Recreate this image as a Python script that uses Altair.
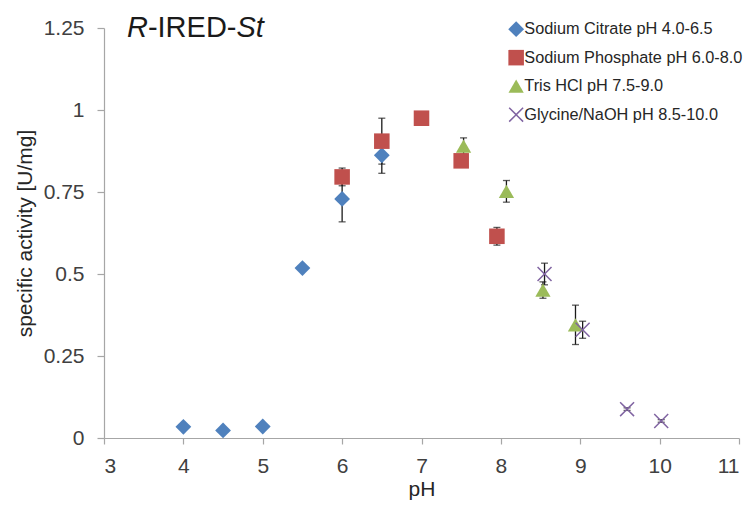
import altair as alt
import pandas as pd

series_names = [
    "Sodium Citrate pH 4.0-6.5",
    "Sodium Phosphate pH 6.0-8.0",
    "Tris HCl pH 7.5-9.0",
    "Glycine/NaOH pH 8.5-10.0",
]
series_colors = ["#4f81bd", "#c0504d", "#9bbb59", "#8064a2"]
x_path = "M-1,-0.86L-0.86,-1L0,-0.14L0.86,-1L1,-0.86L0.14,0L1,0.86L0.86,1L0,0.14L-0.86,1L-1,0.86L-0.14,0Z"
series_shapes = ["diamond", "square", "triangle-up", x_path]
series_sizes = [250, 225, 250, 180]

citrate_ph = [4.0, 4.5, 5.0, 5.5, 6.0, 6.5]
citrate_v = [0.034, 0.023, 0.035, 0.518, 0.729, 0.862]
citrate_err = [0, 0, 0, 0, 0.07, 0.055]

phosphate_ph = [6.0, 6.5, 7.0, 7.5, 7.95]
phosphate_v = [0.796, 0.905, 0.975, 0.845, 0.615]
phosphate_err = [0.027, 0.07, 0, 0, 0.027]

tris_ph = [7.53, 8.07, 8.53, 8.94]
tris_v = [0.89, 0.752, 0.451, 0.345]
tris_err = [0.025, 0.033, 0.025, 0.06]

glycine_ph = [8.55, 9.03, 9.59, 10.02]
glycine_v = [0.50, 0.33, 0.088, 0.052]
glycine_err = [0.033, 0.026, 0.004, 0.004]

x_ticks = [3, 3.5, 4, 4.5, 5, 5.5, 6, 6.5, 7, 7.5, 8, 8.5, 9, 9.5, 10, 10.5, 11]
y_ticks = [0, 0.25, 0.5, 0.75, 1.0, 1.25]

rows = []
for name, phs, vs, es in zip(
    series_names,
    [citrate_ph, phosphate_ph, tris_ph, glycine_ph],
    [citrate_v, phosphate_v, tris_v, glycine_v],
    [citrate_err, phosphate_err, tris_err, glycine_err],
):
    for p, v, e in zip(phs, vs, es):
        rows.append({"series": name, "ph": p, "v": v, "err": e, "lo": v - e, "hi": v + e})
df = pd.DataFrame(rows)

FONT = "Liberation Sans"
AXIS_GRAY = "#a6a6a6"
TEXT = "#404040"

xscale = alt.Scale(domain=[3, 11], nice=False, zero=False)
yscale = alt.Scale(domain=[0, 1.25], nice=False)

x_enc = alt.X(
    "ph:Q",
    scale=xscale,
    title="pH",
    axis=alt.Axis(
        values=x_ticks,
        format="~g",
        labelExpr="datum.value % 1 == 0 ? datum.label : ''",
        labelOverlap=False,
        grid=False,
        tickSize=6,
        labelPadding=11,
        titlePadding=2,
    ),
)
y_enc = alt.Y(
    "v:Q",
    scale=yscale,
    title="specific activity [U/mg]",
    axis=alt.Axis(
        values=y_ticks,
        format=".2~f",
        grid=False,
        tickSize=7,
        labelPadding=13,
        titlePadding=8,
    ),
)

base = alt.Chart(df)

err = base.transform_filter("datum.err > 0")
rules = err.mark_rule(color="#1a1a1a", strokeWidth=1.3).encode(
    x=alt.X("ph:Q", scale=xscale), y=alt.Y("lo:Q", scale=yscale), y2="hi:Q"
)
caps_lo = err.mark_tick(color="#1a1a1a", orient="horizontal", size=7, thickness=1.3).encode(
    x=alt.X("ph:Q", scale=xscale), y=alt.Y("lo:Q", scale=yscale)
)
caps_hi = err.mark_tick(color="#1a1a1a", orient="horizontal", size=7, thickness=1.3).encode(
    x=alt.X("ph:Q", scale=xscale), y=alt.Y("hi:Q", scale=yscale)
)

legend = alt.Legend(
    title=None,
    orient="none",
    legendX=404,
    legendY=-7,
    labelFontSize=16.3,
    labelFont=FONT,
    labelColor="#262626",
    labelLimit=0,
    symbolSize=80,
    symbolStrokeWidth=0,
    rowPadding=11.5,
    labelOffset=0,
)

points = base.mark_point(filled=True, opacity=1, strokeWidth=0).encode(
    x=x_enc,
    y=y_enc,
    color=alt.Color("series:N", scale=alt.Scale(domain=series_names, range=series_colors), legend=legend, sort=series_names),
    shape=alt.Shape("series:N", scale=alt.Scale(domain=series_names, range=series_shapes), legend=legend, sort=series_names),
    size=alt.Size("series:N", scale=alt.Scale(domain=series_names, range=series_sizes), legend=None),
)

def title_part(txt, xpos, italic):
    return alt.Chart(pd.DataFrame({"t": [txt]})).mark_text(
        align="left",
        baseline="alphabetic",
        font=FONT,
        fontSize=29,
        fontStyle="italic" if italic else "normal",
        color="#1a1a1a",
    ).encode(text="t:N", x=alt.value(xpos), y=alt.value(9))

title_layers = [
    title_part("R", 23, True),
    title_part("-IRED-", 43.9, False),
    title_part("St", 132.5, True),
]

chart = alt.layer(rules, caps_lo, caps_hi, points, *title_layers).properties(
    width=635,
    height=410,
    autosize=alt.AutoSizeParams(type="none"),
    padding={"left": 96, "top": 20, "right": 7, "bottom": 62},
).configure_view(stroke=None).configure_axis(
    labelFont=FONT,
    titleFont=FONT,
    labelFontSize=21,
    titleFontSize=21,
    titleFontWeight="normal",
    labelColor=TEXT,
    titleColor="#262626",
    domainColor=AXIS_GRAY,
    tickColor=AXIS_GRAY,
    domainWidth=1.2,
    tickWidth=1.2,
)

chart.save("out.html", embed_options={"renderer": "svg", "actions": False})
